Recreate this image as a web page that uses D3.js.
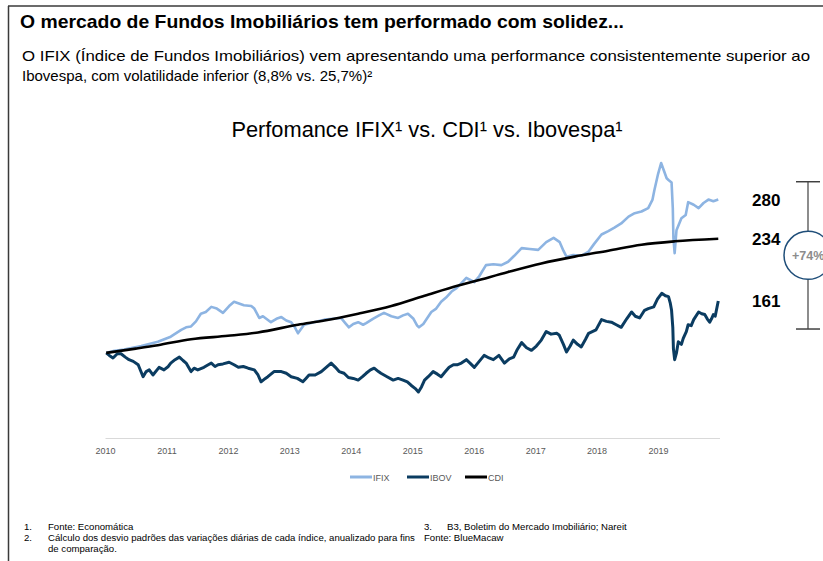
<!DOCTYPE html>
<html>
<head>
<meta charset="utf-8">
<script src="https://cdn.jsdelivr.net/npm/d3@7"></script>
<style>
  body { margin: 0; background: #fff; }
  svg { display: block; }
</style>
</head>
<body>
<div id="vis"></div>
<script>
// Years on the x axis
var years = [2010, 2011, 2012, 2013, 2014, 2015, 2016, 2017, 2018, 2019];

// IFIX (decimal year, index value)
var ifixT = [2010.02, 2010.13, 2010.31, 2010.59, 2010.86, 2011.07, 2011.24, 2011.32, 2011.40, 2011.48,
             2011.56, 2011.64, 2011.73, 2011.82, 2011.92, 2012.02, 2012.10, 2012.18, 2012.26, 2012.38,
             2012.43, 2012.51, 2012.57, 2012.70, 2012.79, 2012.87, 2012.95, 2013.03, 2013.09, 2013.14,
             2013.19, 2013.24, 2013.40, 2013.57, 2013.71, 2013.84, 2013.91, 2013.97, 2014.04, 2014.12,
             2014.20, 2014.25, 2014.36, 2014.46, 2014.54, 2014.66, 2014.77, 2014.85, 2014.93, 2015.02,
             2015.08, 2015.11, 2015.18, 2015.31, 2015.39, 2015.47, 2015.55, 2015.64, 2015.72, 2015.80,
             2015.88, 2015.96, 2016.01, 2016.09, 2016.20, 2016.32, 2016.45, 2016.56, 2016.66, 2016.78,
             2016.91, 2017.05, 2017.18, 2017.30, 2017.40, 2017.46, 2017.51, 2017.62, 2017.75, 2017.87,
             2017.96, 2018.08, 2018.19, 2018.29, 2018.40, 2018.52, 2018.62, 2018.73, 2018.84, 2018.91,
             2018.94, 2019.00, 2019.05, 2019.09, 2019.14, 2019.17, 2019.22, 2019.24, 2019.25, 2019.27,
             2019.30, 2019.38, 2019.45, 2019.49, 2019.58, 2019.66, 2019.74, 2019.82, 2019.90, 2019.98];
var ifixV = [100, 102, 104, 108, 113, 119, 127, 130, 131, 137,
             146, 148, 154, 152, 147, 155, 160, 158, 156, 155,
             152, 141, 143, 136, 140, 142, 138, 136, 130, 123,
             128, 133, 136, 139, 140, 141, 135, 130, 134, 136,
             133, 135, 140, 144, 147, 143, 141, 144, 146, 140,
             132, 130, 134, 148, 152, 160, 165, 172, 176, 182,
             188, 185, 183, 190, 203, 204, 203, 207, 214, 223,
             222, 221, 230, 235, 230, 220, 213, 215, 214, 219,
             228, 239, 243, 247, 252, 260, 264, 266, 270, 280,
             291, 310, 323, 315, 305, 303, 300, 270, 235, 217,
             244, 258, 262, 277, 274, 270, 276, 280, 278, 280];

// IBOV (decimal year, index value)
var ibovT = [2010.02, 2010.07, 2010.13, 2010.20, 2010.26, 2010.33, 2010.39, 2010.46, 2010.54, 2010.62,
             2010.67, 2010.72, 2010.78, 2010.88, 2010.96, 2011.03, 2011.07, 2011.14, 2011.21, 2011.27,
             2011.32, 2011.40, 2011.45, 2011.51, 2011.61, 2011.68, 2011.73, 2011.79, 2011.84, 2011.92,
             2012.02, 2012.10, 2012.17, 2012.25, 2012.33, 2012.43, 2012.49, 2012.54, 2012.61, 2012.65,
             2012.75, 2012.87, 2012.95, 2013.03, 2013.13, 2013.22, 2013.27, 2013.32, 2013.42, 2013.52,
             2013.60, 2013.68, 2013.75, 2013.81, 2013.89, 2013.96, 2014.04, 2014.12, 2014.19, 2014.25,
             2014.32, 2014.38, 2014.45, 2014.49, 2014.59, 2014.69, 2014.77, 2014.85, 2014.92, 2014.98,
             2015.05, 2015.10, 2015.15, 2015.20, 2015.26, 2015.34, 2015.41, 2015.47, 2015.54, 2015.60,
             2015.67, 2015.73, 2015.80, 2015.88, 2015.94, 2016.01, 2016.09, 2016.17, 2016.25, 2016.32,
             2016.41, 2016.50, 2016.58, 2016.65, 2016.71, 2016.78, 2016.86, 2016.94, 2017.02, 2017.10,
             2017.18, 2017.26, 2017.35, 2017.39, 2017.46, 2017.51, 2017.57, 2017.62, 2017.69, 2017.75,
             2017.82, 2017.87, 2017.93, 2017.99, 2018.08, 2018.16, 2018.24, 2018.32, 2018.40, 2018.49,
             2018.57, 2018.63, 2018.70, 2018.78, 2018.84, 2018.93, 2018.99, 2019.06, 2019.12, 2019.17,
             2019.20, 2019.22, 2019.24, 2019.25, 2019.27, 2019.30, 2019.33, 2019.38, 2019.41, 2019.46,
             2019.49, 2019.54, 2019.58, 2019.66, 2019.71, 2019.76, 2019.80, 2019.84, 2019.87, 2019.90,
             2019.93, 2019.98];
var ibovV = [100, 97, 94, 99, 99, 95, 92, 90, 86, 72,
             78, 80, 74, 83, 80, 84, 88, 92, 95, 91,
             88, 78, 82, 80, 83, 86, 88, 84, 86, 87,
             89, 86, 83, 84, 82, 80, 74, 66, 70, 72,
             78, 78, 76, 72, 70, 66, 70, 74, 74, 78,
             83, 88, 83, 78, 76, 71, 70, 68, 72, 76,
             80, 82, 78, 76, 72, 68, 70, 68, 66, 62,
             58, 54, 60, 68, 72, 78, 75, 72, 78, 83,
             86, 86, 88, 92, 88, 83, 90, 97, 94, 92,
             97, 88, 93, 95, 104, 112, 106, 103, 108, 115,
             125, 122, 123, 121, 110, 101, 108, 115, 110, 107,
             116, 123, 125, 127, 139, 137, 136, 133, 130, 140,
             148, 143, 141, 150, 152, 154, 163, 170, 167, 166,
             158, 150, 130, 105, 92, 100, 113, 110, 117, 125,
             133, 132, 139, 148, 146, 145, 140, 136, 140, 145,
             143, 161];

// CDI (decimal year, index value)
var cdiT = [2010.02, 2010.50, 2010.86, 2011.40, 2012.00, 2012.49, 2013.14, 2013.57, 2014.12, 2014.66,
            2015.20, 2015.75, 2016.01, 2016.56, 2017.10, 2017.64, 2018.19, 2018.73, 2019.27, 2019.98];
var cdiV = [100, 105, 109, 116, 120, 124, 133, 138, 146, 155,
            167, 179, 184, 195, 205, 213, 220, 227, 231, 234];

var seriesNames = ["IFIX", "IBOV", "CDI"];
var seriesColors = ["#8DB4E2", "#0B3C61", "#000000"];
var endLabels = ["280", "234", "161"];
var endValues = [280, 234, 161];

var w = 823;
var h = 561;

var svg = d3.select("#vis")
            .append("svg")
            .attr("width", w)
            .attr("height", h);

//Frame
svg.append("line").attr("x1", 8).attr("x2", w).attr("y1", 6).attr("y2", 6)
   .attr("stroke", "#3a3a3a").attr("stroke-width", 1.5);
svg.append("line").attr("x1", 8.5).attr("x2", 8.5).attr("y1", 6).attr("y2", h)
   .attr("stroke", "#3a3a3a").attr("stroke-width", 1.5);

var font = "'Liberation Sans', Arial, sans-serif";

//Heading texts
svg.append("text")
   .attr("x", 20).attr("y", 28)
   .attr("font-family", font).attr("font-weight", "bold").attr("font-size", "18.5px")
   .attr("textLength", 604).attr("lengthAdjust", "spacingAndGlyphs")
   .attr("fill", "#000")
   .text("O mercado de Fundos Imobiliários tem performado com solidez...");

svg.append("text")
   .attr("x", 22).attr("y", 61)
   .attr("font-family", font).attr("font-size", "15px")
   .attr("textLength", 788).attr("lengthAdjust", "spacingAndGlyphs")
   .attr("fill", "#000")
   .text("O IFIX (Índice de Fundos Imobiliários) vem apresentando uma performance consistentemente superior ao");

svg.append("text")
   .attr("x", 22).attr("y", 81)
   .attr("font-family", font).attr("font-size", "15px")
   .attr("fill", "#000")
   .text("Ibovespa, com volatilidade inferior (8,8% vs. 25,7%)²");

svg.append("text")
   .attr("x", 427).attr("y", 137)
   .attr("text-anchor", "middle")
   .attr("font-family", font).attr("font-size", "21.8px")
   .attr("fill", "#000")
   .text("Perfomance IFIX¹ vs. CDI¹ vs. Ibovespa¹");

//Scales
var xScale = d3.scaleLinear()
               .domain([2010, 2020])
               .range([105, 719.5]);

var yScale = d3.scaleLinear()
               .domain([0, 350])
               .range([438, 140]);

//Axis
var xAxis = d3.axisBottom(xScale)
              .tickValues(years)
              .tickSize(0)
              .tickPadding(10)
              .tickFormat(d3.format("d"));

var gx = svg.append("g")
            .attr("transform", "translate(0," + yScale(0) + ")")
            .call(xAxis);
gx.select(".domain").attr("stroke", "#d9d9d9").attr("stroke-width", 1);
gx.selectAll("text")
  .attr("fill", "#595959")
  .attr("font-family", font)
  .attr("font-size", "9px");

//Lines
var seriesData = [
    d3.zip(ifixT, ifixV),
    d3.zip(ibovT, ibovV),
    d3.zip(cdiT, cdiV)
];

var line = d3.line()
             .x(function(d) { return xScale(d[0]); })
             .y(function(d) { return yScale(d[1]); });

var smooth = d3.line()
               .curve(d3.curveMonotoneX)
               .x(function(d) { return xScale(d[0]); })
               .y(function(d) { return yScale(d[1]); });

svg.selectAll("path.series")
   .data(seriesData)
   .enter()
   .append("path")
   .attr("class", "series")
   .attr("d", function(d, i) { return i == 2 ? smooth(d) : line(d); })
   .attr("fill", "none")
   .attr("stroke", function(d, i) { return seriesColors[i]; })
   .attr("stroke-width", function(d, i) { return i == 1 ? 3 : 2.6; })
   .attr("stroke-linejoin", "round");

//End labels
svg.selectAll("text.endlab")
   .data(endLabels)
   .enter()
   .append("text")
   .attr("class", "endlab")
   .attr("x", 752)
   .attr("y", function(d, i) { return yScale(endValues[i]) + 6; })
   .attr("font-family", font)
   .attr("font-weight", "bold")
   .attr("font-size", "17px")
   .attr("fill", "#000")
   .text(function(d) { return d; });

//Difference bracket
var bTop = yScale(301), bBot = yScale(128), bMid = (bTop + bBot) / 2, bx = 808;
svg.append("line").attr("x1", bx).attr("x2", bx).attr("y1", bTop).attr("y2", bBot)
   .attr("stroke", "#404040").attr("stroke-width", 1.2);
svg.append("line").attr("x1", bx - 12).attr("x2", bx + 12).attr("y1", bTop).attr("y2", bTop)
   .attr("stroke", "#404040").attr("stroke-width", 1.5);
svg.append("line").attr("x1", bx - 12).attr("x2", bx + 12).attr("y1", bBot).attr("y2", bBot)
   .attr("stroke", "#404040").attr("stroke-width", 1.5);
svg.append("circle").attr("cx", bx).attr("cy", bMid).attr("r", 24)
   .attr("fill", "#fff").attr("stroke", "#1F4E79").attr("stroke-width", 1.5);
svg.append("text")
   .attr("x", 792).attr("y", bMid + 4.5)
   .attr("font-family", font)
   .attr("font-weight", "bold")
   .attr("font-size", "12.5px")
   .attr("fill", "#8c8c8c")
   .text("+74%");

//Legend
var legX = [350, 407, 465];
var leg = svg.selectAll("g.leg")
             .data(seriesNames)
             .enter()
             .append("g")
             .attr("class", "leg")
             .attr("transform", function(d, i) { return "translate(" + legX[i] + ",477)"; });
leg.append("line")
   .attr("x1", 0).attr("x2", 22).attr("y1", 0).attr("y2", 0)
   .attr("stroke", function(d, i) { return seriesColors[i]; })
   .attr("stroke-width", 3);
leg.append("text")
   .attr("x", 23).attr("y", 3.5)
   .attr("font-family", font)
   .attr("font-size", "9px")
   .attr("fill", "#595959")
   .text(function(d) { return d; });

//Footnotes
var notes = [
    [24, 530, "1."], [48, 530, "Fonte: Economática"],
    [24, 541, "2."], [48, 541, "Cálculo dos desvio padrões das variações diárias de cada índice, anualizado para fins"],
    [48, 552, "de comparação."],
    [424, 530, "3."], [447, 530, "B3, Boletim do Mercado Imobiliário; Nareit"],
    [424, 541, "Fonte: BlueMacaw"]
];
svg.selectAll("text.note")
   .data(notes)
   .enter()
   .append("text")
   .attr("class", "note")
   .attr("x", function(d) { return d[0]; })
   .attr("y", function(d) { return d[1]; })
   .attr("font-family", font)
   .attr("font-size", "9.6px")
   .attr("fill", "#000")
   .text(function(d) { return d[2]; });
</script>
</body>
</html>
